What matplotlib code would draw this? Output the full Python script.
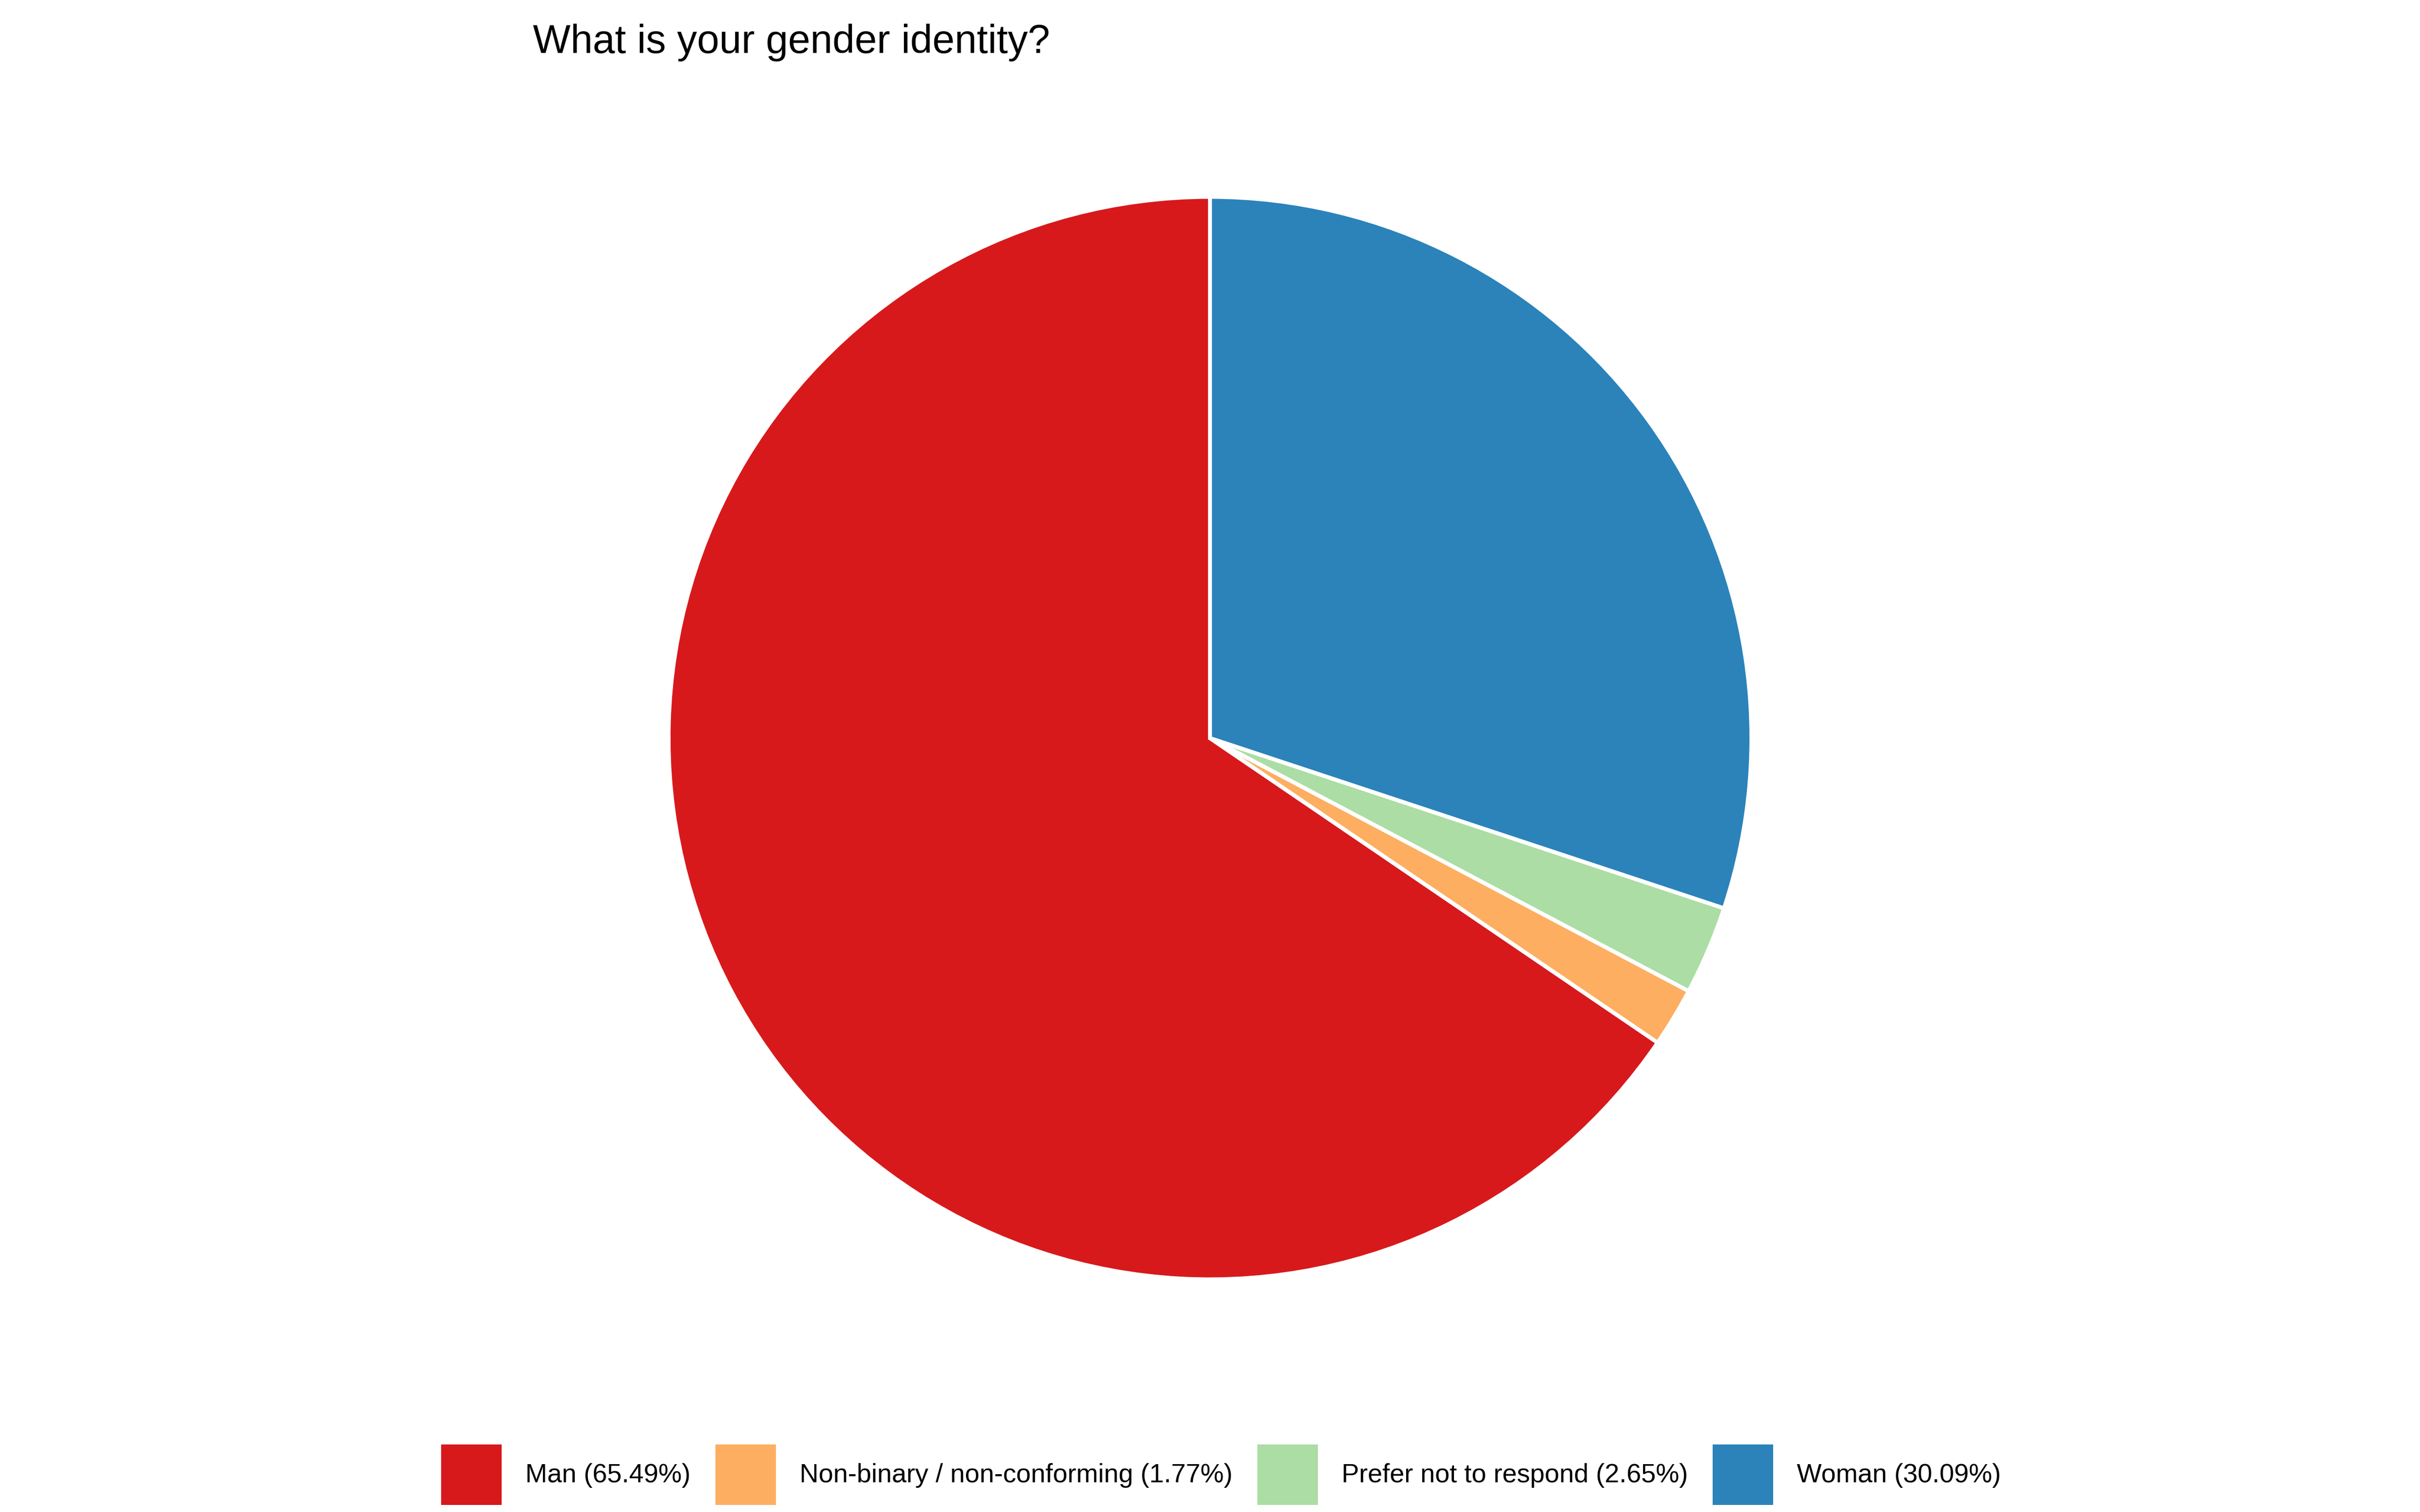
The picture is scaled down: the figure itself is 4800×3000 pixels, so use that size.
import matplotlib
matplotlib.use("Agg")
import matplotlib.pyplot as plt
from matplotlib.patches import Patch

categories = ["Man", "Non-binary / non-conforming", "Prefer not to respond", "Woman"]
percentages = [65.49, 1.77, 2.65, 30.09]
colors = ["#D7191C", "#FDAE61", "#ABDDA4", "#2B83BA"]
title = "What is your gender identity?"

plt.rcParams['font.family'] = ['Liberation Sans', 'DejaVu Sans']

W, H = 4800, 3000
fig = plt.figure(figsize=(16, 10), dpi=300)

cx, cy, r = 2400, 1464.5, 1074
ax = fig.add_axes([(cx - r) / W, 1 - (cy + r) / H, 2 * r / W, 2 * r / H])
ax.pie(percentages, colors=colors, startangle=90, counterclock=True,
       wedgeprops=dict(edgecolor="white", linewidth=1.9), radius=1)
ax.set_xlim(-1, 1)
ax.set_ylim(-1, 1)
ax.axis("off")

fig.text(1057 / W, 1 - 105 / H, title, ha="left", va="baseline", fontsize=19.0)

labels = [f"{c} ({p:.2f}%)" for c, p in zip(categories, percentages)]
handles = [Patch(facecolor=col, edgecolor="none") for col in colors]
fig.legend(handles, labels, loc="center", bbox_to_anchor=(2422 / W, 1 - 2926 / H),
           ncol=4, frameon=False, fontsize=12.5, handlelength=2.3, handleheight=3.15,
           handletextpad=0.9, columnspacing=0.95, borderpad=0, borderaxespad=0)

fig.savefig("out.png", dpi=300, facecolor="white")
